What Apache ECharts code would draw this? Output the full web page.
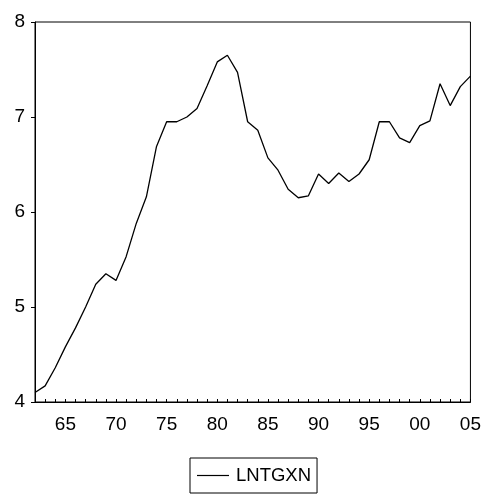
<html>
<head>
    <meta charset="UTF-8">
    <title>LNTGXN</title>
    <script src="https://cdn.jsdelivr.net/npm/echarts@6/dist/echarts.min.js"></script>
    <style>
        body { margin: 0; background: #fff; }
    </style>
</head>
<body>
    <div id="chart" style="width:484px; height:494px;"></div>
    <script>
        // years 1962..2005
        var years = [];
        for (var y = 1962; y <= 2005; y++) years.push(String(y));

        var lntgxn = [
            4.10, 4.17, 4.36, 4.58, 4.78, 5.00, 5.24, 5.35, 5.28, 5.53,
            5.88, 6.16, 6.69, 6.95, 6.95, 7.00, 7.09, 7.33, 7.58, 7.65,
            7.47, 6.95, 6.86, 6.57, 6.44, 6.24, 6.15, 6.17, 6.40, 6.30,
            6.41, 6.32, 6.40, 6.55, 6.95, 6.95, 6.78, 6.73, 6.91, 6.96,
            7.35, 7.12, 7.32, 7.43
        ];

        var yTicks = [4, 5, 6, 7, 8];

        var chart = echarts.init(document.getElementById('chart'), null, { renderer: 'canvas' });
        var font = 'Liberation Sans';

        chart.setOption({
            animation: false,
            grid: {
                left: 35, right: 10, top: 22, bottom: 92,
                show: true, borderColor: '#000', borderWidth: 1
            },
            xAxis: {
                type: 'category',
                data: years,
                boundaryGap: false,
                axisLine: { lineStyle: { color: '#000', width: 1 } },
                axisTick: { interval: 0, inside: true, length: 3, lineStyle: { color: '#000' } },
                axisLabel: {
                    interval: function (i, v) { return Number(v) % 5 === 0; },
                    formatter: function (v) { return v.slice(2); },
                    color: '#000', fontFamily: font, fontSize: 19, margin: 13
                },
                splitLine: { show: false }
            },
            yAxis: {
                type: 'value',
                min: yTicks[0],
                max: yTicks[yTicks.length - 1],
                interval: 1,
                axisLine: { show: true, lineStyle: { color: '#000', width: 1 } },
                axisTick: { show: true, length: 4, lineStyle: { color: '#000' } },
                axisLabel: { color: '#000', fontFamily: font, fontSize: 19, margin: 10 },
                splitLine: { show: false }
            },
            legend: {
                left: 190, top: 458,
                borderColor: '#000', borderWidth: 1,
                padding: [8, 6, 8, 7],
                icon: 'path://M0,0 H32 V1.2 H0 Z',
                itemWidth: 32, itemHeight: 14, itemGap: 8,
                textStyle: { color: '#000', fontFamily: font, fontSize: 18.5, padding: [0, 0, 0, 2] },
                data: ['LNTGXN']
            },
            series: [{
                name: 'LNTGXN',
                type: 'line',
                data: lntgxn,
                symbol: 'none',
                lineStyle: { color: '#000', width: 1.3 },
                itemStyle: { color: '#000' }
            }]
        });
    </script>
</body>
</html>
